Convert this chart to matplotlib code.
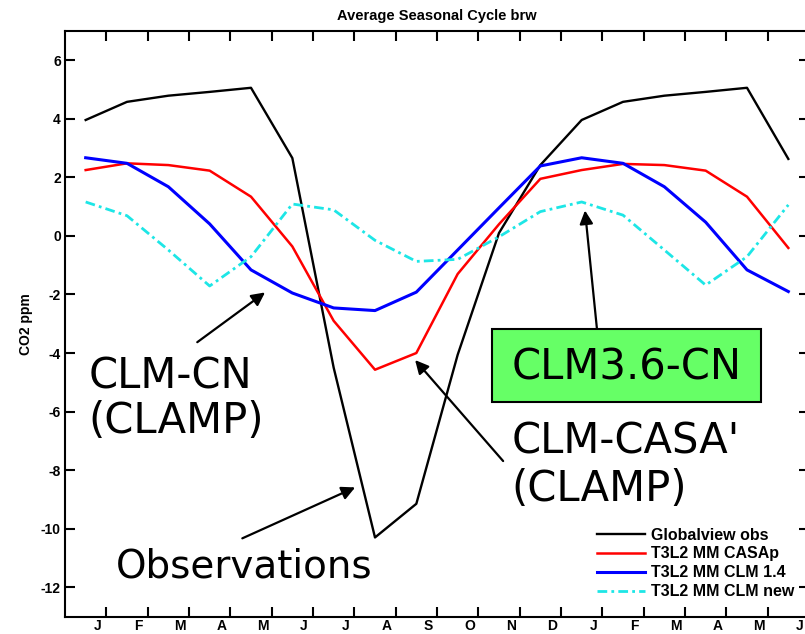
import numpy as np
import matplotlib
matplotlib.use("Agg")
import matplotlib.pyplot as plt
from matplotlib.patches import Rectangle
from matplotlib.transforms import ScaledTranslation

# -----------------------------
# Data
# -----------------------------
months = ["J", "F", "M", "A", "M", "J", "J", "A", "S", "O", "N", "D",
          "J", "F", "M", "A", "M", "J"]
x = np.arange(1, 19)

obs = [3.96, 4.58, 4.79, 4.92, 5.06, 2.66, -4.5, -10.3, -9.15, -4.06, 0.1, 2.42,
       3.96, 4.58, 4.79, 4.92, 5.06, 2.63]
casa = [2.25, 2.48, 2.42, 2.23, 1.34, -0.36, -2.9, -4.57, -4.0, -1.3, 0.4, 1.95,
        2.25, 2.46, 2.42, 2.23, 1.34, -0.41]
clm14 = [2.67, 2.48, 1.68, 0.41, -1.16, -1.95, -2.46, -2.55, -1.92, -0.48, 0.96, 2.39,
         2.67, 2.48, 1.68, 0.47, -1.16, -1.9]
clmnew = [1.16, 0.69, -0.48, -1.71, -0.71, 1.09, 0.89, -0.15, -0.87, -0.8, -0.03, 0.83,
          1.16, 0.71, -0.48, -1.68, -0.71, 1.06]

labels = ["Globalview obs", "T3L2 MM CASAp", "T3L2 MM CLM 1.4", "T3L2 MM CLM new"]

# -----------------------------
# Plot
# -----------------------------
plt.rcParams["font.family"] = ["Liberation Sans", "DejaVu Sans"]
plt.rcParams["font.weight"] = "bold"
plt.rcParams["axes.unicode_minus"] = False

fig = plt.figure(figsize=(8.05, 6.34), dpi=100)
ax = fig.add_axes([65 / 805, (634 - 616.5) / 634, 744 / 805, 585.5 / 634])

ax.plot(x, obs, color="black", lw=1.7, label=labels[0])
ax.plot(x, casa, color="#ff0000", lw=1.8, label=labels[1])
ax.plot(x, clm14, color="#0000ff", lw=2.2, label=labels[2])
ax.plot(x, clmnew, color="#1de6e6", lw=2.0, dashes=[3.5, 1.5, 1, 1.5], label=labels[3])

ax.set_xlim(0.5, 18.5)
ax.set_ylim(-13, 7)
ax.set_yticks(np.arange(-12, 7, 2))
ax.set_xticks(np.arange(1.5, 19, 1))
ax.set_xticklabels(months)
ax.tick_params(direction="in", length=7, width=1.5, top=True, right=True,
               labelsize=10, pad=3)
ax.tick_params(axis="x", pad=1.5)
shift = ScaledTranslation(-9 / 100, 0, fig.dpi_scale_trans)
for lab in ax.get_xticklabels():
    lab.set_transform(lab.get_transform() + shift)
for s in ax.spines.values():
    s.set_linewidth(1.5)

ax.set_title("Average Seasonal Cycle brw", fontsize=10.5, fontweight="bold", pad=8)
ax.set_ylabel("CO2 ppm", fontsize=10, fontweight="bold", labelpad=6)

ax.legend(loc="upper left", bbox_to_anchor=(0.715, 0.152), frameon=False,
          fontsize=11.5, handlelength=3.0, handletextpad=0.4, labelspacing=0.25,
          borderpad=0, borderaxespad=0)

# -----------------------------
# Annotations
# -----------------------------
big = dict(fontsize=30, family="DejaVu Sans", fontweight="normal")
arr = dict(arrowstyle="-|>", color="black", lw=1.6, mutation_scale=20,
           shrinkA=0, shrinkB=0)

ax.text(1.06, -5.21, "CLM-CN", ha="left", va="baseline", **big)
ax.text(1.06, -6.74, "(CLAMP)", ha="left", va="baseline", **big)
ax.annotate("", xy=(5.34, -1.93), xytext=(3.70, -3.63), arrowprops=arr)

ax.text(4.83, -11.66, "Observations", ha="center", va="baseline",
        fontsize=28, family="DejaVu Sans", fontweight="normal")
ax.annotate("", xy=(7.52, -8.59), xytext=(4.79, -10.33), arrowprops=arr)

ax.text(11.31, -7.42, "CLM-CASA'", ha="left", va="baseline", **big)
ax.text(11.31, -9.07, "(CLAMP)", ha="left", va="baseline", **big)
ax.annotate("", xy=(8.97, -4.24), xytext=(11.10, -7.69), arrowprops=arr)

ax.add_patch(Rectangle((10.84, -5.67), 6.51, 2.49, facecolor="#66ff66",
                       edgecolor="black", lw=1.5, zorder=5))
ax.text(14.09, -4.92, "CLM3.6-CN", ha="center", va="baseline", zorder=6, **big)
ax.annotate("", xy=(13.08, 0.87), xytext=(13.37, -3.18), arrowprops=arr)

plt.savefig("out.png", dpi=100)
